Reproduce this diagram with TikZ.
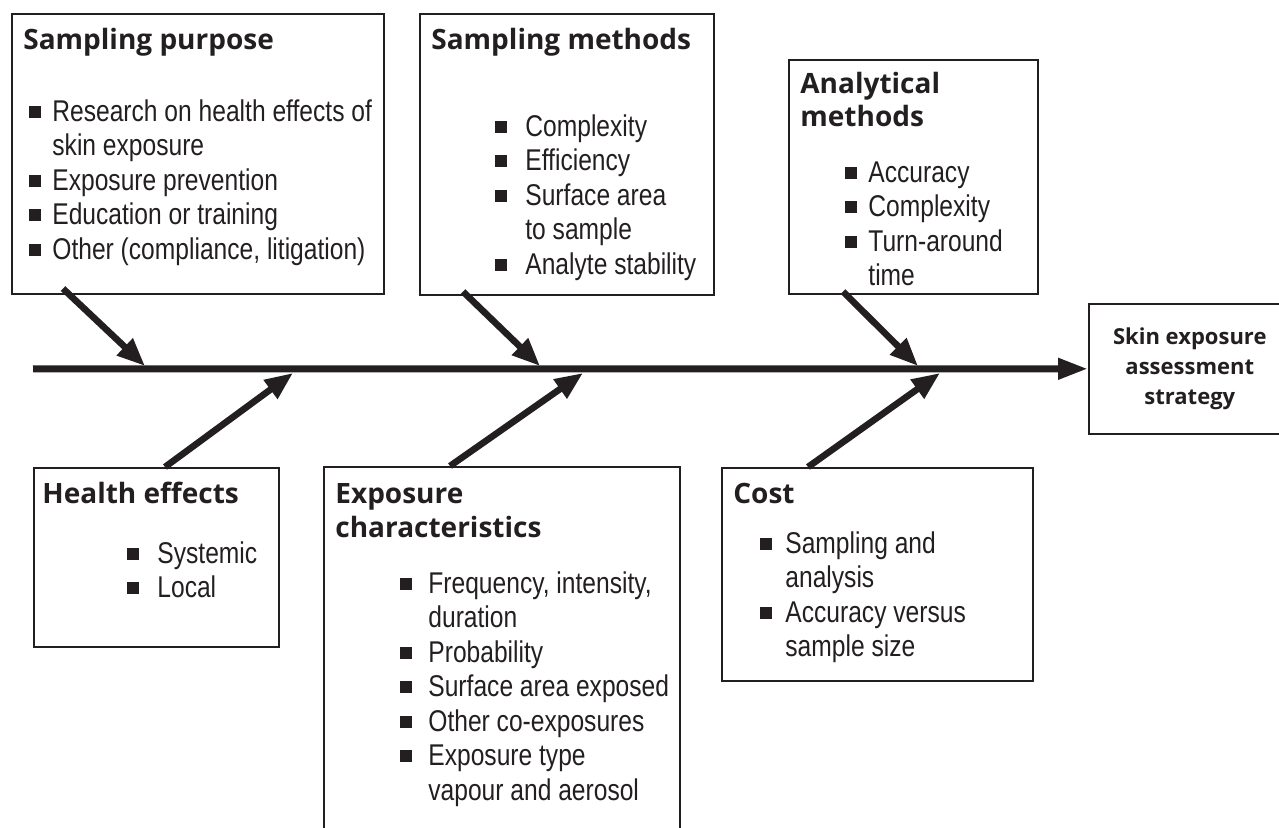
\documentclass[tikz,border=0pt]{standalone}
\usepackage{fontspec}
\setmainfont{Liberation Sans}
\newfontfamily\bodyfont{Liberation Sans}[FakeStretch=0.82]
\newfontfamily\headfont{Open Sans}
\usetikzlibrary{arrows.meta}

\definecolor{ink}{HTML}{231F20}

\newcommand{\sq}[1][15pt]{\makebox[#1][l]{\rule[1.6pt]{6pt}{6pt}}}
\newcommand{\ind}[1][15pt]{\hspace*{#1}}

\tikzset{
	box/.style={draw=ink, line width=0.8pt, anchor=north west, inner sep=0pt},
	head/.style={anchor=north west, inner sep=0pt, align=left, text=ink,
		font=\headfont\bfseries\fontsize{14}{16.5}\selectfont},
	list/.style={anchor=north west, inner sep=0pt, align=left, text=ink,
		font=\bodyfont\fontsize{15}{17.25}\selectfont},
	bone/.style={draw=ink, line width=3.3pt, -{Triangle[length=14pt,width=11pt]}},
	spine/.style={draw=ink, line width=3.5pt, -{Triangle[length=15pt,width=10pt]}}
}

\begin{document}
\begin{tikzpicture}[x=0.5pt, y=-0.5pt]
				\useasboundingbox (0,0) rectangle (1279,828);
				
				\node[box, minimum width=186pt, minimum height=140pt] (sp) at (11,13) {};
				\node[box, minimum width=147pt, minimum height=140.5pt] (sm) at (419,13) {};
				\node[box, minimum width=124.5pt, minimum height=117pt] (am) at (788,59) {};
				\node[box, minimum width=122.5pt, minimum height=89.5pt] (he) at (33,467) {};
				\node[box, minimum width=178pt, minimum height=190pt] (ec) at (323,466) {};
				\node[box, minimum width=155.5pt, minimum height=106.5pt] (cost) at (721,467) {};
				
				\node[box, minimum width=101pt, minimum height=65pt, align=center, text=ink,
					font=\headfont\bfseries\fontsize{11}{15}\selectfont] (skin) at (1088,303)
					{Skin exposure\\assessment\\strategy};
				
				\node[head] (sptitle) at (23,28) {Sampling purpose};
				\node[list] (splist) at (29,99) {\sq[11.5pt]Research on health effects of\\
					\ind[11.5pt]skin exposure\\ \sq[11.5pt]Exposure prevention\\
					\sq[11.5pt]Education or training\\ \sq[11.5pt]Other (compliance, litigation)};
				
				\node[head] (smtitle) at (431,28) {Sampling methods};
				\node[list] (smlist) at (495,114) {\sq Complexity\\ \sq Efficiency\\
					\sq Surface area\\ \ind to sample\\ \sq Analyte stability};
				
				\node[head] (amtitle) at (800,72) {Analytical\\methods};
				\node[list] (amlist) at (845,161) {\sq[11.5pt]Accuracy\\ \sq[11.5pt]Complexity\\
					\sq[11.5pt]Turn-around\\ \ind[11.5pt]time};
				
				\node[head] (hetitle) at (42,482) {Health effects};
				\node[list] (helist) at (127,541) {\sq Systemic\\ \sq Local};
				
				\node[head, font=\headfont\bfseries\fontsize{14}{17}\selectfont] (ectitle) at (335,483)
					{Exposure\\characteristics};
				\node[list] (eclist) at (400,571) {\sq[14pt]Frequency, intensity,\\
					\ind[14pt]duration\\ \sq[14pt]Probability\\ \sq[14pt]Surface area exposed\\
					\sq[14pt]Other co-exposures\\ \sq[14pt]Exposure type\\ \ind[14pt]vapour and aerosol};
				
				\node[head] (costtitle) at (733,483) {Cost};
				\node[list] (costlist) at (760,531) {\sq[12.5pt]Sampling and\\
					\ind[12.5pt]analysis\\ \sq[12.5pt]Accuracy versus\\ \ind[12.5pt]sample size};
				
				\coordinate (tail) at (33,369);
				\coordinate (j1) at (145,366);
				\coordinate (j2) at (540,366);
				\coordinate (j3) at (918,366);
				\coordinate (k1) at (293,373);
				\coordinate (k2) at (583,373);
				\coordinate (k3) at (940,373);
				
				\draw[spine] (tail) -- (skin.west);
				
				\draw[bone] ([xshift=26pt, yshift=3pt]sp.south west) -- (j1);
				\draw[bone] ([xshift=22pt, yshift=2pt]sm.south west) -- (j2);
				\draw[bone] ([xshift=27.5pt, yshift=1.5pt]am.south west) -- (j3);
				
				\draw[bone] ([xshift=66pt]he.north west) -- (k1);
				\draw[bone] ([xshift=63.5pt]ec.north west) -- (k2);
				\draw[bone] ([xshift=43.5pt]cost.north west) -- (k3);
\end{tikzpicture}
\end{document}
